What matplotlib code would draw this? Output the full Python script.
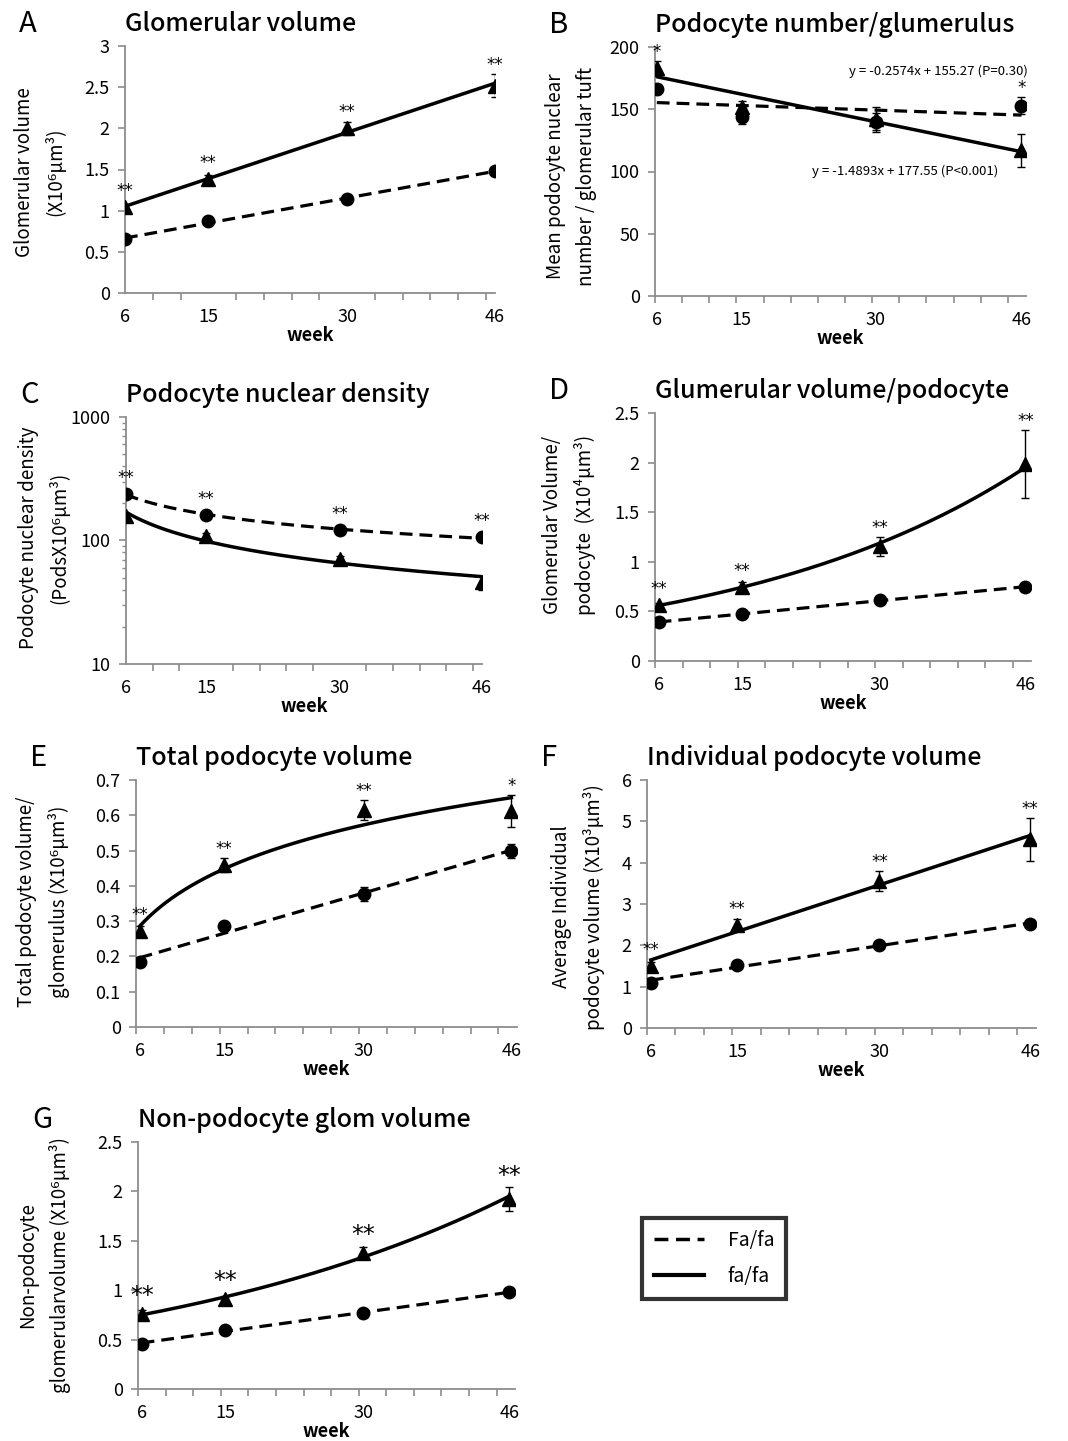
import numpy as np
import matplotlib.pyplot as plt
from matplotlib.lines import Line2D

plt.rcParams['font.family'] = ['Noto Sans CJK JP', 'DejaVu Sans']

W, H = 1068, 1441
GRAY = '#8c8c8c'

# x positions of the four ages as plotted in each panel
week_labels = ['6', '15', '30', '46']
x_std = [6, 15, 30, 46]
x_b = [6.2, 15.6, 30.4, 46.5]
x_shift = [6.4, 15.5, 30.5, 46.4]

# A: glomerular volume (x10^6 um^3)
a_fa = [1.04, 1.38, 2.00, 2.52]
a_fa_err = [0.03, 0.05, 0.08, 0.14]
a_Fa = [0.65, 0.88, 1.14, 1.48]
a_Fa_err = [0.02, 0.02, 0.04, 0.02]
a_stars = ['**', '**', '**', '**']

# B: podocyte number / glomerulus
b_fa = [183, 152, 142, 117]
b_fa_err = [6, 5, 10, 13]
b_Fa = [166, 144, 140, 153]
b_Fa_err = [4, 6, 7, 7]
b_stars = ['*', '', '', '*']

# C: podocyte nuclear density (log axis)
c_fa = [159, 108, 71, 46]
c_fa_err = [5, 8, 4, 6]
c_Fa = [238, 160, 122, 106]
c_Fa_err = [5, 4, 3, 3]
c_stars = ['**', '**', '**', '**']

# D: glomerular volume / podocyte (x10^4 um^3)
d_fa = [0.565, 0.745, 1.155, 1.985]
d_fa_err = [0.02, 0.05, 0.10, 0.34]
d_Fa = [0.39, 0.475, 0.615, 0.745]
d_Fa_err = [0.01, 0.01, 0.01, 0.01]
d_stars = ['**', '**', '**', '**']

# E: total podocyte volume / glomerulus (x10^6 um^3)
e_fa = [0.271, 0.459, 0.615, 0.612]
e_fa_err = [0.015, 0.02, 0.028, 0.045]
e_Fa = [0.183, 0.285, 0.376, 0.499]
e_Fa_err = [0.005, 0.006, 0.02, 0.02]
e_stars = ['**', '**', '**', '*']

# F: individual podocyte volume (x10^3 um^3)
f_fa = [1.49, 2.49, 3.55, 4.57]
f_fa_err = [0.10, 0.15, 0.24, 0.52]
f_Fa = [1.10, 1.53, 2.02, 2.51]
f_Fa_err = [0.03, 0.04, 0.03, 0.08]
f_stars = ['**', '**', '**', '**']

# G: non-podocyte glomerular volume (x10^6 um^3)
g_fa = [0.755, 0.91, 1.38, 1.925]
g_fa_err = [0.04, 0.03, 0.06, 0.12]
g_Fa = [0.46, 0.595, 0.77, 0.98]
g_Fa_err = [0.01, 0.01, 0.01, 0.01]
g_stars = ['**', '**', '**', '**']

fig = plt.figure(figsize=(W / 100, H / 100), dpi=100)
DASH = (0, (4.0, 2.2))


def trend(x, y, kind):
    x = np.asarray(x, float)
    y = np.asarray(y, float)
    xs = np.linspace(x.min(), x.max(), 200)
    if kind == 'lin':
        p = np.polyfit(x, y, 1)
        return xs, np.polyval(p, xs)
    if kind == 'exp':
        p = np.polyfit(x, np.log(y), 1)
        return xs, np.exp(np.polyval(p, xs))
    if kind == 'pow':
        p = np.polyfit(np.log(x), np.log(y), 1)
        return xs, np.exp(np.polyval(p, np.log(xs)))
    p = np.polyfit(np.log(x), y, 1)  # log
    return xs, np.polyval(p, np.log(xs))


def panel(rect, xmax, letter, title, ylabel, ylab_xy, x, fa, fa_err, Fa, Fa_err,
          fits, ylim, yticks, stars, log=False, star_fs=12):
    l, t, r, b = rect
    ax = fig.add_axes([l / W, 1 - b / H, (r - l) / W, (b - t) / H])
    ax.set_xlim(6, xmax)
    if log:
        ax.set_yscale('log')
    ax.set_ylim(*ylim)

    xs, ys = trend(x, Fa, fits[1])
    ax.plot(xs, ys, color='black', lw=2.3, ls=DASH, zorder=2)
    xs, ys = trend(x, fa, fits[0])
    ax.plot(xs, ys, color='black', lw=2.5, zorder=2)
    ax.errorbar(x, Fa, yerr=Fa_err, fmt='o', color='black', ms=9,
                capsize=3, elinewidth=1, capthick=1, zorder=3)
    ax.errorbar(x, fa, yerr=fa_err, fmt='^', color='black', ms=10.5,
                capsize=3, elinewidth=1, capthick=1, zorder=3)

    for s in ['top', 'right']:
        ax.spines[s].set_visible(False)
    for s in ['left', 'bottom']:
        ax.spines[s].set_color(GRAY)
        ax.spines[s].set_linewidth(1.3)

    ax.set_xticks(x, week_labels)
    ax.set_xticks(np.arange(6, xmax, 3), minor=True)
    ax.tick_params(axis='x', which='major', length=0, pad=11, labelsize=13)
    ax.tick_params(axis='x', which='minor', length=5, width=1.2, color=GRAY)
    ax.set_yticks(yticks, [('%g' % v) for v in yticks])
    ax.tick_params(axis='y', which='major', length=5, width=1.2, color=GRAY,
                   labelsize=13, pad=6)
    if log:
        minors = [m * d for d in (10, 100) for m in range(2, 10)]
        ax.set_yticks(minors, minor=True)
        ax.set_yticklabels([], minor=True)
        ax.tick_params(axis='y', which='minor', length=3, width=1, color=GRAY)
    else:
        ax.tick_params(axis='y', which='minor', length=0)
    ax.set_xlabel('week', fontsize=13, fontweight='bold', labelpad=0)

    fig.text(l / W - 106 / W, 1 - (t - 22) / H, letter, fontsize=21,
             ha='left', va='center')
    fig.text(l / W, 1 - (t - 22) / H, title, fontsize=18, fontweight=500,
             ha='left', va='center')
    fig.text(ylab_xy[0] / W, 1 - ylab_xy[1] / H, ylabel, fontsize=13.5,
             rotation=90, ha='center', va='center', linespacing=1.65,
             multialignment='center')

    # significance marks above the upper point
    fig.canvas.draw()
    trans = ax.transData
    for i, s in enumerate(stars):
        if not s:
            continue
        tops = []
        for y, e in ((fa, fa_err), (Fa, Fa_err)):
            top_err = trans.transform((x[i], y[i] + e[i]))[1]
            top_mark = trans.transform((x[i], y[i]))[1] + 7
            tops.append(max(top_err, top_mark))
        py = max(tops) + 4
        px = trans.transform((x[i], 0 if not log else 10))[0]
        fig.text(px / W, py / H, s, fontsize=star_fs, ha='center',
                 va='baseline', family='DejaVu Sans')
    return ax


panel((125, 46, 495, 293), 46, 'A', 'Glomerular volume',
      'Glomerular volume\n(X10\u2076\u03bcm\u00b3)', (40, 172),
      x_std, a_fa, a_fa_err, a_Fa, a_Fa_err, ('lin', 'lin'),
      (0, 3), [0, 0.5, 1, 1.5, 2, 2.5, 3], a_stars)

axb = panel((655, 47, 1026, 296), 47, 'B', 'Podocyte number/glumerulus',
            'Mean podocyte nuclear\nnumber / glomerular tuft', (571, 176),
            x_b, b_fa, b_fa_err, b_Fa, b_Fa_err, ('lin', 'lin'),
            (0, 200), [0, 50, 100, 150, 200], b_stars)
fig.text(849 / W, 1 - 71 / H, 'y = -0.2574x + 155.27 (P=0.30)', fontsize=9.5,
         ha='left', va='center')
fig.text(812 / W, 1 - 171 / H, 'y = -1.4893x + 177.55 (P<0.001)', fontsize=9.5,
         ha='left', va='center')

panel((126, 417, 482, 664), 46, 'C', 'Podocyte nuclear density',
      'Podocyte nuclear density\n(PodsX10\u2076\u03bcm\u00b3)', (44, 538),
      x_std, c_fa, c_fa_err, c_Fa, c_Fa_err, ('pow', 'pow'),
      (10, 1000), [10, 100, 1000], c_stars, log=True)

panel((655, 413, 1031, 661), 47, 'D', 'Glumerular volume/podocyte',
      'Glomerular Volume/\npodocyte  (X10\u2074\u03bcm\u00b3)', (569, 525),
      x_shift, d_fa, d_fa_err, d_Fa, d_Fa_err, ('exp', 'lin'),
      (0, 2.5), [0, 0.5, 1, 1.5, 2, 2.5], d_stars)

panel((136, 780, 517, 1027), 47, 'E', 'Total podocyte volume',
      'Total podocyte volume/\nglomerulus (X10\u2076\u03bcm\u00b3)', (43, 902),
      x_shift, e_fa, e_fa_err, e_Fa, e_Fa_err, ('log', 'lin'),
      (0, 0.7), [0, 0.1, 0.2, 0.3, 0.4, 0.5, 0.6, 0.7], e_stars)

panel((647, 780, 1036, 1028), 47, 'F', 'Individual podocyte volume',
      'Average Individual\npodocyte volume (X10\u00b3\u03bcm\u00b3)', (578, 907),
      x_shift, f_fa, f_fa_err, f_Fa, f_Fa_err, ('lin', 'lin'),
      (0, 6), [0, 1, 2, 3, 4, 5, 6], f_stars)

panel((138, 1142, 515, 1389), 47, 'G', 'Non-podocyte glom volume',
      'Non-podocyte\nglomerularvolume (X10\u2076\u03bcm\u00b3)', (44, 1265),
      x_shift, g_fa, g_fa_err, g_Fa, g_Fa_err, ('exp', 'lin'),
      (0, 2.5), [0, 0.5, 1, 1.5, 2, 2.5], g_stars, star_fs=17)

handles = [Line2D([], [], color='black', lw=2.5, ls=DASH),
           Line2D([], [], color='black', lw=3)]
leg = fig.legend(handles, ['Fa/fa', 'fa/fa'], loc='upper left',
                 bbox_to_anchor=(642 / W, 1 - 1218 / H), borderaxespad=0,
                 fontsize=14, frameon=True, fancybox=False, edgecolor='black',
                 handlelength=2.6, handletextpad=1.2, borderpad=0.6,
                 labelspacing=0.8)
leg.get_frame().set_linewidth(3)

fig.savefig('out.png', dpi=100)
